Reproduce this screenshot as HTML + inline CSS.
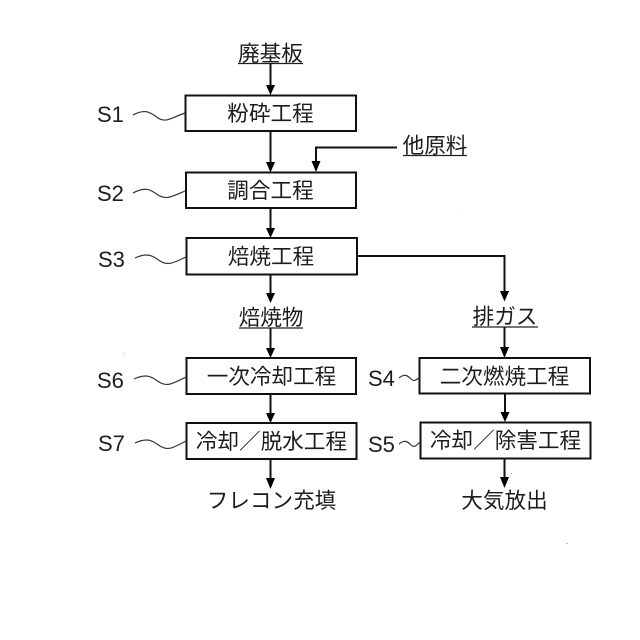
<!DOCTYPE html>
<html lang="ja"><head><meta charset="utf-8"><style>
html,body{margin:0;padding:0;background:#fff}
svg{display:block}
text{font-family:"Liberation Sans","Noto Sans CJK JP",sans-serif;fill:#1c1c1c;font-size:21.6px;text-anchor:middle}
.s{font-size:22px;text-anchor:start}
.b{fill:#fff;stroke:#111;stroke-width:2}
.l{fill:none;stroke:#111;stroke-width:2}
.u{stroke:#222;stroke-width:1.3;fill:none}
.w{fill:none;stroke:#333;stroke-width:1.2}
.a{fill:#000}
</style></head><body>
<svg width="640" height="640" viewBox="0 0 640 640" xmlns="http://www.w3.org/2000/svg">
<rect width="640" height="640" fill="#fff"/>
<!-- connectors -->
<path class="l" d="M270.500 64V88M270.500 131V165M270.500 208V231M270.500 275V296M270.500 328V351M270.500 394V416M270.500 459V481M316 165V147.500H397M357 256H504.500V294M504.500 327V351M505 393V415M504.500 458V480"/>
<g class="a">
<path d="M266 85h9l-4.500 10zM266 162h9l-4.500 10.500zM266 228h9l-4.500 10zM266 293h9l-4.500 10zM266 348h9l-4.500 10zM266 413h9l-4.500 10zM266 478h9l-4.500 11zM311.500 161h9l-4.500 11zM500 291h9l-4.500 10.500zM500 347h9l-4.500 11zM500.500 412h9l-4.500 10zM500 477h9l-4.500 11z"/>
</g>
<!-- boxes -->
<rect class="b" x="185.500" y="95.500" width="170.500" height="35.500"/>
<rect class="b" x="186" y="172.500" width="170" height="35.500"/>
<rect class="b" x="186.500" y="238" width="170.500" height="36.500"/>
<rect class="b" x="186.500" y="358" width="169.500" height="36"/>
<rect class="b" x="186.500" y="423" width="170" height="36"/>
<rect class="b" x="419.500" y="358" width="170.500" height="35.500"/>
<rect class="b" x="420.500" y="422.500" width="170" height="36"/>
<!-- box labels -->
<text x="270.500" y="121">粉砕工程</text>
<text x="270.500" y="198">調合工程</text>
<text x="271" y="264">焙焼工程</text>
<text x="271.500" y="384">一次冷却工程</text>
<text x="271.500" y="449">冷却／脱水工程</text>
<text x="504.500" y="384">二次燃焼工程</text>
<text x="505.500" y="448">冷却／除害工程</text>
<!-- free labels -->
<text x="270.500" y="61">廃基板</text>
<path class="u" d="M238 63.500H303"/>
<text x="271" y="325">焙焼物</text>
<path class="u" d="M239 328H303"/>
<text x="435" y="153">他原料</text>
<path class="u" d="M403 155.500H467"/>
<text x="505" y="324">排ガス</text>
<path class="u" d="M472 327H538"/>
<text x="271.500" y="508">フレコン充填</text>
<text x="504.500" y="508">大気放出</text>
<!-- step labels -->
<text class="s" x="97" y="122">S1</text>
<text class="s" x="97" y="201">S2</text>
<text class="s" x="98" y="267">S3</text>
<text class="s" x="97" y="388">S6</text>
<text class="s" x="98" y="451">S7</text>
<text class="s" x="368" y="386">S4</text>
<text class="s" x="368" y="452">S5</text>
<!-- wavy leaders -->
<path class="w" d="M133 115C146 108 151 113 158 118C166 123 171 118 185 113"/>
<path class="w" d="M133 193C146 186 151 190 158 195C166 200 171 197 185 191"/>
<path class="w" d="M135 258C148 252 153 256 160 261C168 266 173 263 186 257"/>
<path class="w" d="M134 379C147 373 152 377 159 382C167 387 172 384 186 377"/>
<path class="w" d="M135 443C148 437 153 441 160 446C168 451 173 448 186 441"/>
<path class="w" d="M399 378C405 373 408 376 411 379C414 382 416 380 420 377"/>
<path class="w" d="M399 444C405 439 408 442 411 445C414 448 416 446 420 442"/>
<!-- specks -->
<rect x="462" y="211" width="1" height="1" fill="#ddd"/>
<rect x="124" y="353" width="1" height="1" fill="#bbb"/>
<rect x="566" y="543" width="2" height="1" fill="#bbb"/>
<rect x="511" y="473" width="1" height="1" fill="#999"/>
</svg>
</body></html>
